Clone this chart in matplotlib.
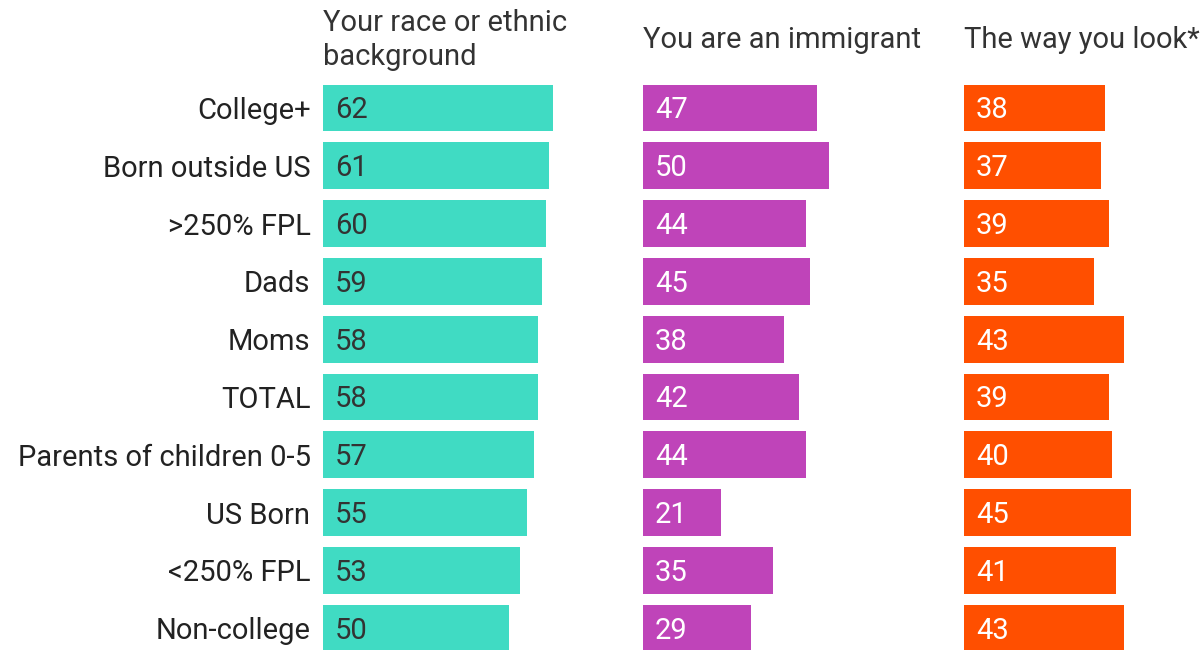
import matplotlib.pyplot as plt

plt.rcParams['font.family'] = ['Roboto', 'DejaVu Sans']

groups = ['College+', 'Born outside US', '>250% FPL', 'Dads', 'Moms', 'TOTAL',
          'Parents of children 0-5', 'US Born', '<250% FPL', 'Non-college']
titles = ['Your race or ethnic\nbackground', 'You are an immigrant', 'The way you look*']
race = [62, 61, 60, 59, 58, 58, 57, 55, 53, 50]
immigrant = [47, 50, 44, 45, 38, 42, 44, 21, 35, 29]
look = [38, 37, 39, 35, 43, 39, 40, 45, 41, 43]

series = [race, immigrant, look]
colors = ['#40DBC3', '#BF44B9', '#FF4F00']
text_colors = ['#333333', 'white', 'white']

W, H = 1204, 650
fig = plt.figure(figsize=(W / 100, H / 100), dpi=100)

lefts = [323, 643, 964]
ax_w = 240
px_per_unit = 3.71
row0, step = 108, 57.8
ymin = (H - row0) / step
ymax = (0 - row0) / step
fs = 21

for k, (vals, title) in enumerate(zip(series, titles)):
    ax = fig.add_axes([lefts[k] / W, 0, ax_w / W, 1])
    y = list(range(len(groups)))
    ax.barh(y, vals, height=0.81, color=colors[k])
    ax.set_xlim(0, ax_w / px_per_unit)
    ax.set_ylim(ymin, ymax)
    for yi, v in zip(y, vals):
        ax.text(12 / px_per_unit, yi + 0.04, str(v), va='center', ha='left',
                fontsize=fs, color=text_colors[k])
    ax.text(0, (40 - row0) / step, title, va='center', ha='left',
            fontsize=fs, color='#333333', linespacing=1.25)
    for s in ax.spines.values():
        s.set_visible(False)
    ax.set_xticks([])
    if k == 0:
        ax.set_yticks(y)
        ax.set_yticklabels(groups, fontsize=fs, color='#222222')
        ax.tick_params(axis='y', length=0, pad=9)
    else:
        ax.set_yticks([])

fig.savefig('out.png', dpi=100)
